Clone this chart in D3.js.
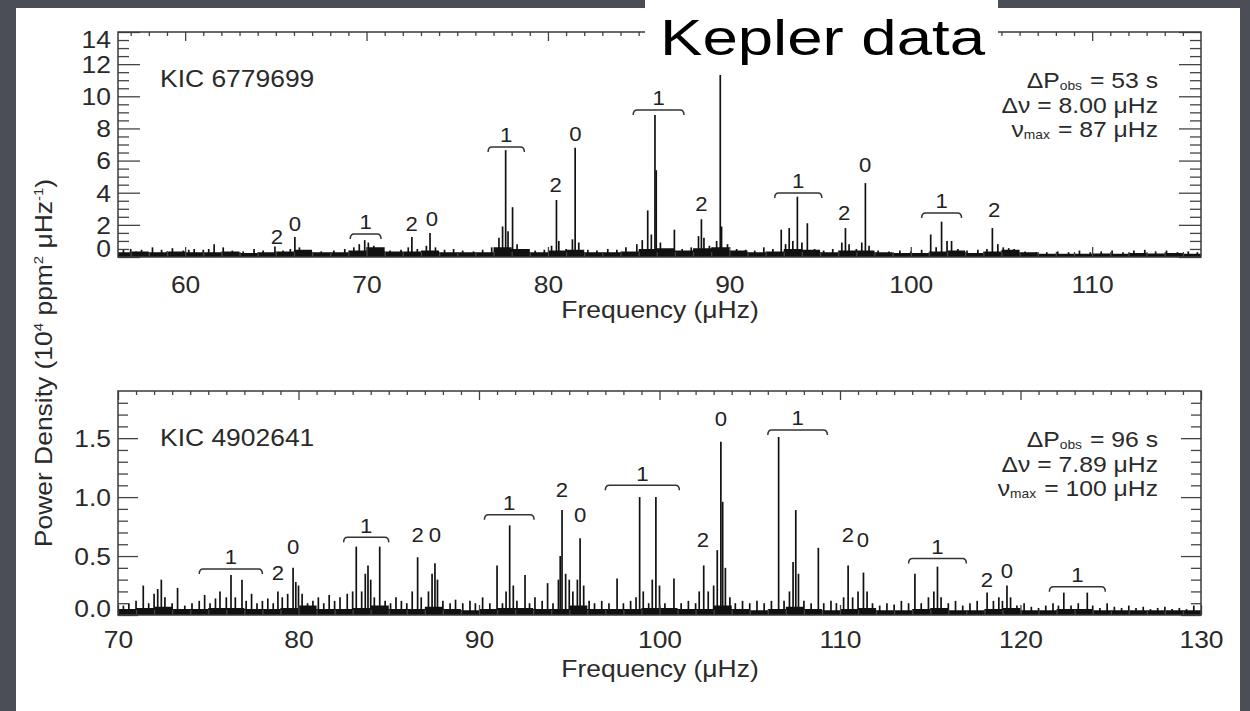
<!DOCTYPE html>
<html><head><meta charset="utf-8">
<script src="https://cdn.jsdelivr.net/npm/d3@7"></script>
<style>
html,body{margin:0;padding:0;background:#4b4e54;}
svg{display:block;}
text{font-family:"Liberation Sans",Arial,Helvetica,sans-serif;}
</style></head>
<body>
<svg id="c" width="1250" height="711"></svg>
<script>
// ---------------- DATA ----------------
// Top panel: KIC 6779699
const topXTicks = [60, 70, 80, 90, 100, 110];
const topYTicks = [0, 2, 4, 6, 8, 10, 12, 14];
const topSpikes = [
 [56.6,0.45],[57.0,0.5],[57.3,0.35],[57.6,0.45],[58.2,0.6],[58.7,0.45],[59.0,0.35],[59.3,0.55],[59.9,0.4],[60.2,0.45],
 [60.5,0.5],[61.0,0.45],[61.3,0.5],[61.6,0.8],[62.1,0.6],[62.6,0.4],[63.2,0.35],[63.8,0.5],[64.3,0.4],[64.95,0.65],
 [65.4,0.4],[65.8,0.5],[66.05,1.25],[66.3,0.6],[66.8,0.4],[67.5,0.35],[68.2,0.4],[68.8,0.5],[69.3,0.6],[69.6,0.8],
 [69.9,1.05],[70.1,0.9],[70.4,0.7],[70.8,0.5],[71.3,0.4],[71.9,0.45],[72.3,0.6],[72.5,1.25],[72.8,0.5],[73.3,0.7],
 [73.5,1.5],[73.8,0.6],[74.3,0.45],[74.8,0.5],[75.3,0.4],[75.9,0.35],[76.4,0.45],[76.9,0.6],[77.3,1.2],[77.5,1.9],
 [77.67,6.65],[77.8,1.6],[78.05,3.1],[78.3,0.8],[78.8,0.5],[79.3,0.4],[79.8,0.45],[80.2,0.7],[80.47,3.55],[80.6,1.0],
 [81.0,0.5],[81.35,1.1],[81.5,6.8],[81.7,0.9],[82.2,0.45],[82.7,0.4],[83.3,0.5],[83.8,0.45],[84.3,0.6],[84.9,0.8],
 [85.2,1.05],[85.5,2.9],[85.7,1.4],[85.9,8.84],[85.97,5.4],[86.2,0.9],[86.5,0.5],[86.97,1.7],[87.4,0.5],[87.9,0.6],
 [88.3,1.3],[88.46,2.35],[88.6,1.2],[88.9,0.7],[89.3,1.0],[89.5,11.6],[89.57,1.9],[89.9,0.8],[90.4,0.5],[90.9,0.45],
 [91.4,0.4],[91.9,0.6],[92.4,0.5],[92.86,1.7],[93.1,0.8],[93.3,1.8],[93.5,1.0],[93.75,3.75],[94.0,0.9],[94.3,2.1],
 [94.7,0.5],[95.2,0.4],[95.7,0.5],[96.2,0.9],[96.4,1.8],[96.6,0.8],[97.0,0.5],[97.3,0.9],[97.5,4.6],[97.7,0.7],
 [98.2,0.4],[98.8,0.35],[99.4,0.4],[100.0,0.35],[100.6,0.45],[101.1,1.4],[101.4,0.6],[101.7,2.2],[102.0,1.0],[102.25,1.0],
 [102.6,0.5],[103.1,0.4],[103.7,0.45],[104.2,0.5],[104.5,1.8],[104.8,0.8],[105.1,0.6],[105.4,0.55],[105.7,0.5],[106.3,0.35],
 [106.9,0.3],[107.5,0.3],[108.1,0.35],[108.7,0.3],[109.3,0.4],[109.9,0.3],[110.5,0.35],[111.1,0.4],[111.7,0.3],[112.3,0.4],
 [112.9,0.45],[113.5,0.35],[114.1,0.4],[114.7,0.3],[115.3,0.35],[115.8,0.3]
];
const topFloor = [
 [56.3,0.3],[57,0.35],[58,0.3],[59,0.35],[60,0.3],[61,0.3],[62,0.35],[63,0.25],[64,0.3],[65,0.35],[66,0.45],[67,0.3],
 [68,0.3],[69,0.4],[70,0.6],[71,0.35],[72,0.35],[73,0.4],[74,0.3],[75,0.3],[76,0.3],[77,0.6],[78,0.5],[79,0.3],[80,0.4],
 [81,0.45],[82,0.3],[83,0.3],[84,0.35],[85,0.5],[86,0.55],[87,0.4],[88,0.55],[89,0.6],[90,0.4],[91,0.3],[92,0.35],
 [93,0.5],[94,0.45],[95,0.3],[96,0.4],[97,0.4],[98,0.3],[99,0.25],[100,0.25],[101,0.35],[102,0.4],[103,0.25],[104,0.35],
 [105,0.45],[106,0.3],[107,0.2],[108,0.2],[109,0.2],[110,0.22],[111,0.2],[112,0.25],[113,0.22],[114,0.25],[115,0.2],[116,0.2]
];
const topModeLabels = [
 [65.06,1.24,"2"],[66.05,2.05,"0"],[72.49,2.1,"2"],[73.6,2.36,"0"],[80.42,4.48,"2"],[81.52,7.65,"0"],
 [88.46,3.3,"2"],[96.33,2.74,"2"],[97.49,5.72,"0"],[104.6,2.92,"2"]
];
const topBrackets = [
 [69.1,70.8,1.43,"1"],[76.7,78.7,6.85,"1"],[84.7,87.5,9.15,"1"],[92.5,95.1,3.98,"1"],[100.6,102.8,2.74,"1"]
];

// Bottom panel: KIC 4902641
const botXTicks = [70, 80, 90, 100, 110, 120, 130];
const botYTicks = [0.0, 0.5, 1.0, 1.5];
const botSpikes = [
 [70.3,0.08],[70.6,0.1],[71.0,0.12],[71.4,0.25],[71.7,0.1],[72.0,0.18],[72.2,0.22],[72.4,0.3],[72.6,0.15],[73.0,0.1],
 [73.3,0.23],[73.7,0.08],[74.1,0.1],[74.5,0.12],[74.8,0.17],[75.1,0.1],[75.4,0.14],[75.65,0.2],[76.0,0.15],[76.26,0.34],
 [76.5,0.15],[76.87,0.3],[77.1,0.12],[77.4,0.18],[77.7,0.1],[78.0,0.12],[78.3,0.14],[78.6,0.1],[78.86,0.2],[79.1,0.15],
 [79.4,0.18],[79.7,0.4],[79.85,0.28],[80.0,0.25],[80.2,0.18],[80.5,0.1],[80.8,0.12],[81.1,0.15],[81.4,0.1],[81.7,0.17],
 [82.0,0.12],[82.3,0.15],[82.7,0.18],[83.0,0.2],[83.2,0.58],[83.5,0.2],[83.7,0.35],[83.85,0.42],[84.0,0.3],[84.2,0.15],
 [84.5,0.58],[84.8,0.12],[85.1,0.1],[85.4,0.15],[85.7,0.12],[86.0,0.1],[86.3,0.2],[86.6,0.49],[86.8,0.15],[87.2,0.2],
 [87.4,0.35],[87.56,0.44],[87.7,0.3],[88.0,0.12],[88.4,0.1],[88.7,0.13],[89.1,0.1],[89.5,0.12],[89.8,0.1],[90.2,0.15],
 [90.6,0.1],[91.0,0.42],[91.3,0.1],[91.5,0.2],[91.7,0.76],[91.9,0.25],[92.1,0.12],[92.55,0.34],[92.8,0.1],[93.1,0.15],
 [93.5,0.12],[93.8,0.27],[94.1,0.1],[94.4,0.3],[94.5,0.5],[94.6,0.89],[94.8,0.35],[95.0,0.3],[95.2,0.2],[95.45,0.3],
 [95.6,0.65],[95.8,0.25],[96.1,0.12],[96.4,0.1],[96.8,0.12],[97.2,0.1],[97.65,0.31],[98.0,0.1],[98.4,0.12],[98.7,0.15],
 [98.9,1.0],[99.1,0.2],[99.4,0.1],[99.6,0.3],[99.8,1.0],[100.0,0.25],[100.3,0.1],[100.8,0.31],[101.2,0.1],[101.6,0.12],
 [102.0,0.1],[102.2,0.2],[102.45,0.42],[102.7,0.2],[103.0,0.25],[103.2,0.55],[103.4,1.47],[103.5,0.96],[103.65,0.4],[103.9,0.15],
 [104.2,0.1],[104.6,0.12],[105.0,0.1],[105.4,0.12],[105.8,0.1],[106.2,0.12],[106.6,1.51],[106.9,0.12],[107.2,0.2],[107.4,0.45],
 [107.55,0.89],[107.7,0.35],[108.0,0.12],[108.4,0.1],[108.8,0.57],[109.1,0.1],[109.5,0.12],[109.8,0.1],[110.2,0.15],[110.45,0.42],
 [110.7,0.15],[111.0,0.2],[111.3,0.36],[111.5,0.2],[111.8,0.1],[112.2,0.08],[112.6,0.1],[113.0,0.09],[113.4,0.12],[113.8,0.1],
 [114.15,0.35],[114.5,0.1],[114.9,0.15],[115.2,0.2],[115.4,0.41],[115.6,0.15],[116.0,0.1],[116.4,0.12],[116.8,0.08],[117.2,0.1],
 [117.6,0.12],[118.15,0.19],[118.5,0.12],[118.8,0.15],[119.0,0.12],[119.25,0.25],[119.45,0.15],[119.8,0.08],[120.2,0.1],[120.6,0.07],
 [121.0,0.06],[121.4,0.08],[121.8,0.1],[122.1,0.08],[122.4,0.19],[122.8,0.08],[123.2,0.1],[123.7,0.19],[124.0,0.08],[124.4,0.06],
 [124.8,0.1],[125.2,0.07],[125.6,0.06],[126.0,0.08],[126.4,0.06],[126.8,0.07],[127.2,0.05],[127.6,0.06],[128.0,0.07],[128.4,0.05],
 [128.8,0.06],[129.2,0.05],[129.6,0.08]
];
const botFloor = [
 [70,0.05],[71,0.06],[72,0.07],[73,0.05],[74,0.05],[75,0.06],[76,0.06],[77,0.05],[78,0.05],[79,0.06],[80,0.08],[81,0.05],
 [82,0.05],[83,0.06],[84,0.08],[85,0.05],[86,0.05],[87,0.07],[88,0.05],[89,0.04],[90,0.05],[91,0.06],[92,0.06],[93,0.05],
 [94,0.05],[95,0.08],[96,0.05],[97,0.05],[98,0.05],[99,0.06],[100,0.06],[101,0.05],[102,0.05],[103,0.08],[104,0.05],
 [105,0.04],[106,0.05],[107,0.07],[108,0.05],[109,0.04],[110,0.05],[111,0.06],[112,0.04],[113,0.04],[114,0.05],[115,0.06],
 [116,0.04],[117,0.04],[118,0.05],[119,0.06],[120,0.04],[121,0.04],[122,0.05],[123,0.05],[124,0.04],[125,0.04],[126,0.04],
 [127,0.04],[128,0.04],[129,0.04],[130,0.04]
];
const botModeLabels = [
 [78.86,0.36,"2"],[79.7,0.58,"0"],[86.6,0.68,"2"],[87.56,0.68,"0"],[94.6,1.06,"2"],[95.6,0.85,"0"],
 [102.4,0.64,"2"],[103.4,1.67,"0"],[110.44,0.68,"2"],[111.27,0.64,"0"],[118.14,0.30,"2"],[119.25,0.38,"0"]
];
const botBrackets = [
 [74.5,78.0,0.39,"1"],[82.5,85.0,0.66,"1"],[90.3,93.05,0.85,"1"],[97.0,101.1,1.10,"1"],
 [106.0,109.3,1.57,"1"],[113.8,117.0,0.48,"1"],[121.6,124.7,0.24,"1"]
];

const topInfo = {name:"KIC 6779699", dP:"53 s", dnu:"8.00 \u03bcHz", numax:"87 \u03bcHz"};
const botInfo = {name:"KIC 4902641", dP:"96 s", dnu:"7.89 \u03bcHz", numax:"100 \u03bcHz"};

// ---------------- DRAW ----------------
const svg = d3.select("#c");
const SX = 1.15; // horizontal stretch of the original lettering

svg.append("rect").attr("x",0).attr("y",0).attr("width",1250).attr("height",711).attr("fill","#4b4e54");
svg.append("rect").attr("x",16).attr("y",8).attr("width",1224).attr("height",703).attr("fill","#ffffff");

function panel(cfg){
  const x = d3.scaleLinear().domain(cfg.xdom).range([118,1201]);
  const y = d3.scaleLinear().domain(cfg.ydom).range([cfg.bottom, cfg.top]);
  const g = svg.append("g");

  // floor area
  const area = d3.area().x(d=>x(d[0])).y0(y(0)).y1(d=>y(d[1])).curve(d3.curveStepAfter);
  g.append("path").datum(cfg.floor).attr("d",area).attr("fill","#111");
  // spikes
  g.selectAll("line.sp").data(cfg.spikes).join("line").attr("class","sp")
    .attr("x1",d=>x(d[0])).attr("x2",d=>x(d[0]))
    .attr("y1",y(0)).attr("y2",d=>y(d[1]))
    .attr("stroke","#111").attr("stroke-width",1.7);

  // axes
  const styleAxis = sel => { sel.select(".domain").remove(); sel.selectAll("line").attr("stroke","#444").attr("stroke-width",1.3); };
  const fmt = cfg.yfmt;
  const firstY = cfg.yticks[0], lastY = cfg.yticks[cfg.yticks.length-1];
  const la = g.append("g").attr("transform","translate(118,0)")
    .call(d3.axisLeft(y).tickValues(cfg.yticks).tickSize(-cfg.ymaj).tickPadding(7).tickFormat(fmt));
  styleAxis(la);
  la.selectAll("text").attr("font-size",23).attr("fill","#2a2a2a").attr("dy","0.36em")
    .attr("transform",`scale(${SX},1)`).attr("x",-7/SX)
    .attr("y",d=> d===firstY ? -cfg.endShift[0] : (d===lastY ? cfg.endShift[1] : 0));
  g.append("g").attr("transform","translate(118,0)")
    .call(d3.axisLeft(y).tickValues(cfg.yminor).tickSize(-cfg.ymaj/2).tickFormat("")).call(styleAxis);
  g.append("g").attr("transform","translate(1201,0)")
    .call(d3.axisRight(y).tickValues(cfg.yticks).tickSize(-cfg.ymaj).tickFormat("")).call(styleAxis);
  g.append("g").attr("transform","translate(1201,0)")
    .call(d3.axisRight(y).tickValues(cfg.yminor).tickSize(-cfg.ymaj/2).tickFormat("")).call(styleAxis);
  const ba = g.append("g").attr("transform",`translate(0,${cfg.bottom})`)
    .call(d3.axisBottom(x).tickValues(cfg.xticks).tickSize(-10).tickPadding(cfg.xpad).tickFormat(d3.format("d")));
  styleAxis(ba);
  ba.selectAll("text").attr("font-size",23).attr("fill","#2a2a2a").attr("transform",`scale(${SX},1)`);
  g.append("g").attr("transform",`translate(0,${cfg.bottom})`)
    .call(d3.axisBottom(x).tickValues(cfg.xminor).tickSize(-5).tickFormat("")).call(styleAxis);
  g.append("g").attr("transform",`translate(0,${cfg.top})`)
    .call(d3.axisTop(x).tickValues(cfg.xticks).tickSize(-9).tickFormat("")).call(styleAxis);
  g.append("g").attr("transform",`translate(0,${cfg.top})`)
    .call(d3.axisTop(x).tickValues(cfg.xminor).tickSize(-4).tickFormat("")).call(styleAxis);

  // frame
  g.append("rect").attr("x",118).attr("y",cfg.top).attr("width",1201-118).attr("height",cfg.bottom-cfg.top)
    .attr("fill","none").attr("stroke","#3a3a3a").attr("stroke-width",1.5);

  // x title
  g.append("text").attr("transform",`translate(660,${cfg.xtitleY}) scale(${SX},1)`)
    .attr("text-anchor","middle").attr("font-size",23).attr("fill","#2a2a2a").text("Frequency (\u03bcHz)");

  // star name
  g.append("text").attr("transform",`translate(160,${cfg.nameY}) scale(${SX},1)`)
    .attr("font-size",23).attr("fill","#2a2a2a").text(cfg.info.name);

  // info block
  const lines = [
    {pre:"\u0394P", sub:"obs", post:"= "+cfg.info.dP},
    {pre:"\u0394\u03bd = "+cfg.info.dnu, sub:null, post:null},
    {pre:"\u03bd", sub:"max", post:"= "+cfg.info.numax}
  ];
  lines.forEach((L,i)=>{
    const t = g.append("text").attr("transform",`translate(1158,${cfg.infoY + i*cfg.infoDY}) scale(${SX},1)`)
      .attr("text-anchor","end").attr("font-size",21.5).attr("fill","#2a2a2a");
    t.append("tspan").text(L.pre);
    if (L.sub){
      t.append("tspan").attr("font-size",12).attr("dy",2).text(L.sub);
      t.append("tspan").attr("dy",-2).attr("dx",1).text(" "+L.post);
    }
  });

  // mode labels
  g.selectAll("text.ml").data(cfg.labels).join("text").attr("class","ml")
    .attr("transform",d=>`translate(${x(d[0])},${y(d[1])}) scale(1.08,1)`)
    .attr("text-anchor","middle").attr("dy","0.36em").attr("font-size",20.5).attr("fill","#222").text(d=>d[2]);
  // brackets
  g.selectAll("path.br").data(cfg.brackets).join("path").attr("class","br")
    .attr("d",d=>{const a=x(d[0]),b=x(d[1]),yy=y(d[2]);return `M${a},${yy+5} Q${a},${yy} ${a+4},${yy} L${b-4},${yy} Q${b},${yy} ${b},${yy+5}`;})
    .attr("fill","none").attr("stroke","#333").attr("stroke-width",1.5);
  g.selectAll("text.bl").data(cfg.brackets).join("text").attr("class","bl")
    .attr("transform",d=>`translate(${(x(d[0])+x(d[1]))/2},${y(d[2])-12}) scale(1.08,1)`)
    .attr("text-anchor","middle").attr("dy","0.36em").attr("font-size",20.5).attr("fill","#222").text(d=>d[3]);
}

panel({
  xdom:[56.3,116.0], ydom:[0,14], top:32, bottom:257,
  xticks:topXTicks, xminor:d3.range(57,116,1).filter(v=>v%10!==0),
  yticks:topYTicks, yminor:d3.range(0,14.01,0.5).filter(v=>v%2!==0),
  ymaj:22, yfmt:d3.format("d"), xpad:20, xtitleY:318, nameY:87, endShift:[9,7],
  info:topInfo, infoY:88, infoDY:24.6,
  spikes:topSpikes, floor:topFloor, labels:topModeLabels, brackets:topBrackets
});
panel({
  xdom:[70,130], ydom:[0,1.9], top:391, bottom:615,
  xticks:botXTicks, xminor:d3.range(71,130,1).filter(v=>v%10!==0),
  yticks:botYTicks, yminor:[0.1,0.2,0.3,0.4,0.6,0.7,0.8,0.9,1.1,1.2,1.3,1.4,1.6,1.7,1.8],
  ymaj:20, yfmt:d3.format(".1f"), xpad:17, xtitleY:677, nameY:446, endShift:[7,0],
  info:botInfo, infoY:447, infoDY:24.6,
  spikes:botSpikes, floor:botFloor, labels:botModeLabels, brackets:botBrackets
});

// y-axis title
const yt = svg.append("text").attr("transform","translate(52,363) rotate(-90) scale(1.15,1)")
  .attr("text-anchor","middle").attr("font-size",23).attr("fill","#2a2a2a");
yt.append("tspan").text("Power Density (10");
yt.append("tspan").attr("font-size",13).attr("dy",-9).text("4");
yt.append("tspan").attr("dy",9).text(" ppm");
yt.append("tspan").attr("font-size",13).attr("dy",-9).text("2");
yt.append("tspan").attr("dy",9).text(" \u03bcHz");
yt.append("tspan").attr("font-size",13).attr("dy",-9).text("-1");
yt.append("tspan").attr("dy",9).text(")");

// "Kepler data" label box
svg.append("rect").attr("x",645).attr("y",0).attr("width",353).attr("height",75).attr("fill","#ffffff");
svg.append("text").attr("x",660).attr("y",55).attr("font-size",50)
  .attr("font-family","'Comic Sans MS','Comic Neue','Noto Sans',sans-serif").attr("fill","#000")
  .attr("textLength",325).attr("lengthAdjust","spacingAndGlyphs").text("Kepler data");
</script>
</body></html>
